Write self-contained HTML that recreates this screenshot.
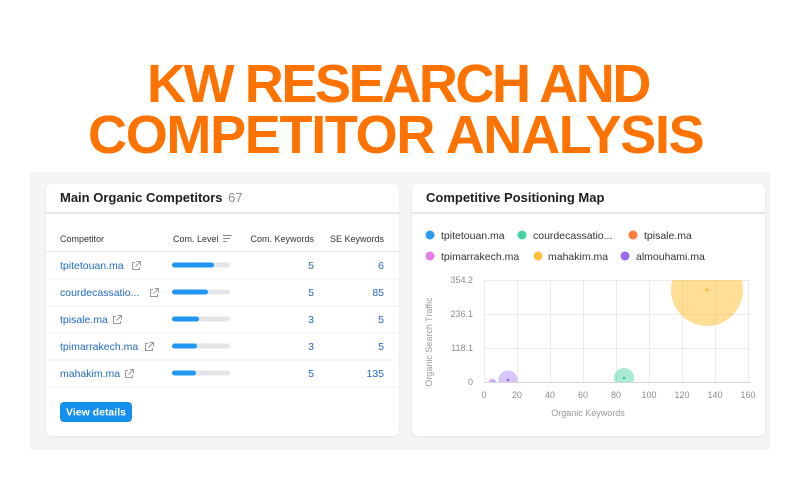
<!DOCTYPE html>
<html><head><meta charset="utf-8">
<style>
html,body{margin:0;padding:0;background:#fff;}
body{width:800px;height:500px;overflow:hidden;}
svg{display:block;font-family:"Liberation Sans",Arial,sans-serif;}
</style></head>
<body>
<svg width="800" height="500" viewBox="0 0 800 500" xmlns="http://www.w3.org/2000/svg">
<defs>
  <filter id="sh" x="-5%" y="-5%" width="110%" height="110%">
    <feDropShadow dx="0" dy="1" stdDeviation="1.5" flood-color="#000" flood-opacity="0.06"/>
  </filter>
  <clipPath id="plot"><rect x="484" y="280" width="266" height="102"/></clipPath>
  <g id="ext">
    <path d="M0 2.2 H-1 V-6 H7 V-5" fill="none" stroke="#9a9a9a" stroke-width="1"/>
  </g>
</defs>
<rect width="800" height="500" fill="#ffffff"/>

<!-- Title -->
<text x="147" y="102" font-size="54" font-weight="bold" fill="#fe7200" letter-spacing="-2.4">KW RESEARCH AND</text>
<text x="88" y="153" font-size="54" font-weight="bold" fill="#fe7200" letter-spacing="-1.3">COMPETITOR ANALYSIS</text>

<!-- gray region -->
<rect x="30" y="172" width="740" height="278" fill="#f4f5f7"/>

<!-- Left card -->
<rect x="46" y="184" width="353" height="252" rx="6" fill="#fff" filter="url(#sh)"/>
<text x="60" y="202" font-size="13" font-weight="bold" fill="#1d1d1f">Main Organic Competitors <tspan font-weight="normal" fill="#8a8a8a" dx="2">67</tspan></text>
<rect x="46" y="212" width="353" height="2" fill="#e7e8eb"/>

<g font-size="9" fill="#333">
  <text x="60" y="242">Competitor</text>
  <text x="173" y="242">Com. Level</text>
  <text x="314" y="242" text-anchor="end">Com. Keywords</text>
  <text x="384" y="242" text-anchor="end">SE Keywords</text>
</g>
<g stroke="#8a8a8a" stroke-width="1">
  <line x1="223" y1="235.5" x2="232" y2="235.5"/>
  <line x1="223" y1="238.5" x2="230" y2="238.5"/>
  <line x1="223" y1="241.5" x2="227" y2="241.5"/>
</g>
<rect x="46" y="251" width="353" height="1" fill="#e3e4e7"/>

<!-- row separators -->
<g fill="#f0f0f2">
  <rect x="46" y="278.5" width="353" height="1"/>
  <rect x="46" y="305.5" width="353" height="1"/>
  <rect x="46" y="332.5" width="353" height="1"/>
  <rect x="46" y="359.5" width="353" height="1"/>
  <rect x="46" y="386.5" width="353" height="1"/>
</g>

<g font-size="10.5" fill="#2169c0">
  <text x="60" y="269">tpitetouan.ma</text>
  <text x="60" y="296">courdecassatio...</text>
  <text x="60" y="323">tpisale.ma</text>
  <text x="60" y="350">tpimarrakech.ma</text>
  <text x="60" y="377">mahakim.ma</text>

  <text x="314" y="269" text-anchor="end">5</text>
  <text x="314" y="296" text-anchor="end">5</text>
  <text x="314" y="323" text-anchor="end">3</text>
  <text x="314" y="350" text-anchor="end">3</text>
  <text x="314" y="377" text-anchor="end">5</text>

  <text x="384" y="269" text-anchor="end">6</text>
  <text x="384" y="296" text-anchor="end">85</text>
  <text x="384" y="323" text-anchor="end">5</text>
  <text x="384" y="350" text-anchor="end">5</text>
  <text x="384" y="377" text-anchor="end">135</text>
</g>

<!-- external link icons -->
<g fill="none" stroke="#9a9a9a" stroke-width="1">
  <g transform="translate(132,261)"><path d="M3 1.5 H0.5 V8.5 H7.5 V6"/><path d="M4.5 0.5 H8.5 V4.5 M8.5 0.5 L3.5 5.5"/></g>
  <g transform="translate(150,288)"><path d="M3 1.5 H0.5 V8.5 H7.5 V6"/><path d="M4.5 0.5 H8.5 V4.5 M8.5 0.5 L3.5 5.5"/></g>
  <g transform="translate(113,315)"><path d="M3 1.5 H0.5 V8.5 H7.5 V6"/><path d="M4.5 0.5 H8.5 V4.5 M8.5 0.5 L3.5 5.5"/></g>
  <g transform="translate(145,342)"><path d="M3 1.5 H0.5 V8.5 H7.5 V6"/><path d="M4.5 0.5 H8.5 V4.5 M8.5 0.5 L3.5 5.5"/></g>
  <g transform="translate(125,369)"><path d="M3 1.5 H0.5 V8.5 H7.5 V6"/><path d="M4.5 0.5 H8.5 V4.5 M8.5 0.5 L3.5 5.5"/></g>
</g>

<!-- level bars -->
<g>
  <rect x="172" y="262.5" width="58" height="5" rx="2.5" fill="#e4e5e8"/>
  <rect x="172" y="262.5" width="42" height="5" rx="2.5" fill="#2196f3"/>
  <rect x="172" y="289.5" width="58" height="5" rx="2.5" fill="#e4e5e8"/>
  <rect x="172" y="289.5" width="36" height="5" rx="2.5" fill="#2196f3"/>
  <rect x="172" y="316.5" width="58" height="5" rx="2.5" fill="#e4e5e8"/>
  <rect x="172" y="316.5" width="27" height="5" rx="2.5" fill="#2196f3"/>
  <rect x="172" y="343.5" width="58" height="5" rx="2.5" fill="#e4e5e8"/>
  <rect x="172" y="343.5" width="25" height="5" rx="2.5" fill="#2196f3"/>
  <rect x="172" y="370.5" width="58" height="5" rx="2.5" fill="#e4e5e8"/>
  <rect x="172" y="370.5" width="24" height="5" rx="2.5" fill="#2196f3"/>
</g>

<!-- button -->
<rect x="60" y="402" width="72" height="20" rx="4" fill="#1690ee"/>
<text x="96" y="415.5" font-size="10.5" font-weight="bold" fill="#fff" text-anchor="middle">View details</text>

<!-- Right card -->
<rect x="412" y="184" width="353" height="252" rx="6" fill="#fff" filter="url(#sh)"/>
<text x="426" y="202" font-size="13" font-weight="bold" fill="#1d1d1f">Competitive Positioning Map</text>
<rect x="412" y="212" width="353" height="2" fill="#e7e8eb"/>

<!-- legend -->
<g font-size="10.5" fill="#333">
  <circle cx="430" cy="235" r="4.5" fill="#2b9af3"/><text x="441" y="239">tpitetouan.ma</text>
  <circle cx="522" cy="235" r="4.5" fill="#45d3a4"/><text x="533" y="239">courdecassatio...</text>
  <circle cx="633" cy="235" r="4.5" fill="#ff7a3d"/><text x="644" y="239">tpisale.ma</text>
  <circle cx="430" cy="256" r="4.5" fill="#e57ce8"/><text x="441" y="260">tpimarrakech.ma</text>
  <circle cx="538" cy="256" r="4.5" fill="#ffc23f"/><text x="548" y="260">mahakim.ma</text>
  <circle cx="625" cy="256" r="4.5" fill="#9c6cf0"/><text x="636" y="260">almouhami.ma</text>
</g>

<!-- grid -->
<g stroke="#ebebed" stroke-width="1">
  <line x1="484" y1="280.5" x2="750" y2="280.5"/>
  <line x1="484" y1="314.5" x2="750" y2="314.5"/>
  <line x1="484" y1="348.5" x2="750" y2="348.5"/>
  <line x1="484.5" y1="280" x2="484.5" y2="382"/>
  <line x1="517.5" y1="280" x2="517.5" y2="382"/>
  <line x1="550.5" y1="280" x2="550.5" y2="382"/>
  <line x1="583.5" y1="280" x2="583.5" y2="382"/>
  <line x1="616.5" y1="280" x2="616.5" y2="382"/>
  <line x1="649.5" y1="280" x2="649.5" y2="382"/>
  <line x1="682.5" y1="280" x2="682.5" y2="382"/>
  <line x1="715.5" y1="280" x2="715.5" y2="382"/>
  <line x1="748.5" y1="280" x2="748.5" y2="382"/>
</g>

<!-- bubbles -->
<g clip-path="url(#plot)">
  <circle cx="707" cy="290" r="36" fill="#ffc440" fill-opacity="0.55"/>
  <circle cx="624" cy="378" r="10" fill="#3fd39b" fill-opacity="0.45"/>
  <circle cx="508" cy="380" r="9.5" fill="#9c6cf0" fill-opacity="0.4"/>
  <circle cx="492" cy="382" r="3.5" fill="#e57ce8" fill-opacity="0.6"/>
  <circle cx="494" cy="382" r="2" fill="#2b9af3" fill-opacity="0.4"/>
</g>
<circle cx="707" cy="290" r="1.6" fill="#f0c030"/>
<circle cx="624" cy="378" r="1.2" fill="#3fbf8f"/>
<circle cx="508" cy="380" r="1.2" fill="#7f55d8"/>
<line x1="484" y1="382.5" x2="750" y2="382.5" stroke="#d6d7da" stroke-width="1"/>

<!-- tick labels -->
<g font-size="9" fill="#8c8c8c">
  <text x="473" y="283" text-anchor="end">354.2</text>
  <text x="473" y="317" text-anchor="end">236.1</text>
  <text x="473" y="351" text-anchor="end">118.1</text>
  <text x="473" y="385" text-anchor="end">0</text>

  <text x="484" y="398" text-anchor="middle">0</text>
  <text x="517" y="398" text-anchor="middle">20</text>
  <text x="550" y="398" text-anchor="middle">40</text>
  <text x="583" y="398" text-anchor="middle">60</text>
  <text x="616" y="398" text-anchor="middle">80</text>
  <text x="649" y="398" text-anchor="middle">100</text>
  <text x="682" y="398" text-anchor="middle">120</text>
  <text x="715" y="398" text-anchor="middle">140</text>
  <text x="748" y="398" text-anchor="middle">160</text>
</g>
<g font-size="9" fill="#999">
  <text x="588" y="416" text-anchor="middle">Organic Keywords</text>
  <text transform="translate(432,342) rotate(-90)" text-anchor="middle">Organic Search Traffic</text>
</g>
</svg>
</body></html>
